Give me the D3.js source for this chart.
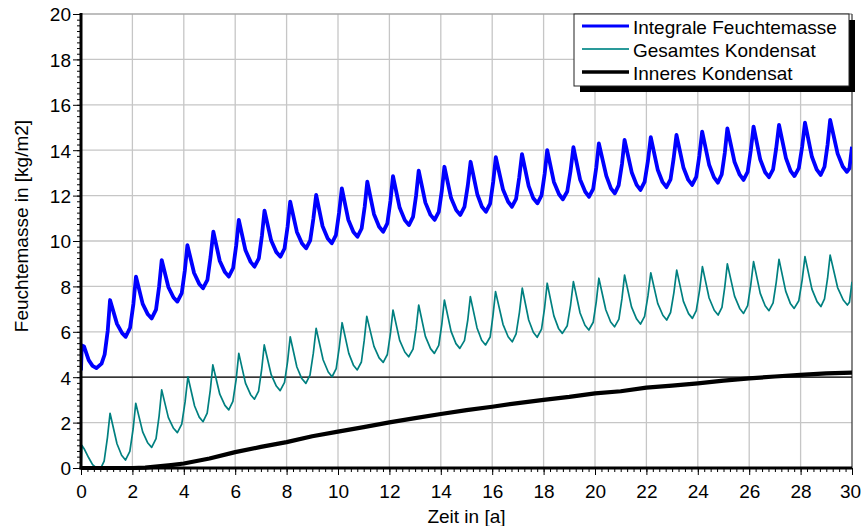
<!DOCTYPE html>
<html>
<head>
<meta charset="utf-8">
<script src="https://cdn.jsdelivr.net/npm/d3@7"></script>
<style>
  html, body { margin: 0; padding: 0; background: #fff; }
  svg { display: block; font-family: "Liberation Sans", Arial, sans-serif; }
</style>
</head>
<body>
<svg id="chart" width="861" height="526"></svg>
<script>
// ---------- data ----------
const seriesNames = ["Integrale Feuchtemasse", "Gesamtes Kondensat", "Inneres Kondensat"];
const xTicks = [0, 2, 4, 6, 8, 10, 12, 14, 16, 18, 20, 22, 24, 26, 28, 30];
const yTicks = [0, 2, 4, 6, 8, 10, 12, 14, 16, 18, 20];
const referenceLine = 4;

// [Zeit in a, Feuchtemasse in kg/m2]
const integraleFeuchtemasse = [
  [0,4.3],[0.03,5.4],[0.12,5.35],[0.3,4.75],[0.45,4.5],[0.6,4.4],[0.8,4.6],[0.92,5.0],[1.04,6.05],
  [1.13,7.4],[1.4,6.35],[1.6,5.94],[1.74,5.78],[1.91,6.18],[2.04,7.24],
  [2.14,8.43],[2.4,7.23],[2.6,6.77],[2.75,6.59],[2.92,6.98],[3.04,8.0],
  [3.14,9.16],[3.4,7.97],[3.6,7.51],[3.75,7.33],[3.92,7.7],[4.04,8.7],
  [4.14,9.82],[4.4,8.59],[4.6,8.11],[4.75,7.92],[4.92,8.29],[5.04,9.29],
  [5.15,10.41],[5.4,9.12],[5.6,8.63],[5.75,8.43],[5.92,8.81],[6.04,9.81],
  [6.14,10.93],[6.4,9.59],[6.6,9.08],[6.75,8.87],[6.92,9.24],[7.04,10.23],
  [7.14,11.34],[7.4,10.02],[7.6,9.51],[7.76,9.31],[7.92,9.67],[8.04,10.64],
  [8.14,11.73],[8.4,10.4],[8.6,9.89],[8.76,9.68],[8.92,10.03],[9.04,10.97],
  [9.15,12.03],[9.4,10.65],[9.6,10.11],[9.76,9.9],[9.92,10.26],[10.04,11.23],
  [10.15,12.32],[10.4,10.94],[10.6,10.4],[10.76,10.19],[10.92,10.55],[11.04,11.52],
  [11.14,12.61],[11.4,11.18],[11.6,10.63],[11.76,10.41],[11.92,10.78],[12.04,11.76],
  [12.14,12.86],[12.4,11.46],[12.6,10.92],[12.76,10.7],[12.92,11.06],[13.04,12.02],
  [13.14,13.1],[13.4,11.69],[13.6,11.15],[13.76,10.93],[13.92,11.28],[14.04,12.22],
  [14.14,13.27],[14.4,11.89],[14.6,11.36],[14.76,11.15],[14.92,11.5],[15.05,12.44],
  [15.16,13.49],[15.42,12.06],[15.6,11.51],[15.76,11.29],[15.92,11.65],[16.04,12.61],
  [16.14,13.69],[16.42,12.27],[16.62,11.73],[16.77,11.51],[16.93,11.86],[17.05,12.79],
  [17.16,13.83],[17.42,12.42],[17.6,11.88],[17.76,11.66],[17.92,12.01],[18.04,12.95],
  [18.14,14.0],[18.4,12.6],[18.6,12.06],[18.75,11.84],[18.92,12.18],[19.05,13.1],
  [19.16,14.13],[19.42,12.71],[19.62,12.17],[19.77,11.95],[19.93,12.3],[20.05,13.24],
  [20.15,14.3],[20.44,12.87],[20.62,12.32],[20.77,12.1],[20.92,12.45],[21.05,13.39],
  [21.15,14.45],[21.43,13.02],[21.62,12.47],[21.77,12.25],[21.93,12.6],[22.06,13.53],
  [22.17,14.57],[22.44,13.14],[22.63,12.59],[22.78,12.37],[22.94,12.72],[23.06,13.64],
  [23.17,14.67],[23.44,13.24],[23.63,12.69],[23.78,12.47],[23.94,12.82],[24.06,13.76],
  [24.17,14.82],[24.44,13.36],[24.63,12.8],[24.78,12.57],[24.93,12.93],[25.05,13.88],
  [25.15,14.96],[25.43,13.48],[25.63,12.92],[25.78,12.69],[25.94,13.04],[26.06,13.98],
  [26.17,15.04],[26.43,13.59],[26.62,13.03],[26.77,12.81],[26.93,13.16],[27.05,14.08],
  [27.16,15.11],[27.43,13.65],[27.61,13.09],[27.76,12.86],[27.93,13.21],[28.06,14.15],
  [28.17,15.21],[28.44,13.71],[28.63,13.14],[28.78,12.91],[28.93,13.27],[29.05,14.24],
  [29.15,15.33],[29.44,13.85],[29.64,13.28],[29.8,13.05],[29.9,13.2],[30,14.15]
];

const gesamtesKondensat = [
  [0,0],[0.03,1.0],[0.12,0.85],[0.3,0.45],[0.45,0.15],[0.6,0],[0.78,0.02],[0.9,0.3],[1.03,1.35],
  [1.13,2.41],[1.4,1.07],[1.58,0.56],[1.73,0.35],[1.9,0.73],[2.03,1.73],
  [2.13,2.85],[2.4,1.59],[2.6,1.1],[2.75,0.91],[2.92,1.29],[3.04,2.3],
  [3.14,3.44],[3.4,2.22],[3.6,1.75],[3.75,1.56],[3.92,1.93],[4.05,2.91],
  [4.16,4.02],[4.42,2.73],[4.6,2.24],[4.75,2.04],[4.91,2.42],[5.03,3.42],
  [5.13,4.54],[5.4,3.25],[5.6,2.76],[5.75,2.56],[5.91,2.93],[6.04,3.93],
  [6.14,5.05],[6.4,3.74],[6.6,3.23],[6.75,3.03],[6.91,3.39],[7.03,4.34],
  [7.13,5.42],[7.4,4.11],[7.6,3.61],[7.75,3.41],[7.92,3.77],[8.04,4.71],
  [8.14,5.78],[8.4,4.45],[8.59,3.94],[8.75,3.73],[8.91,4.09],[9.04,5.06],
  [9.15,6.15],[9.42,4.77],[9.62,4.23],[9.77,4.02],[9.93,4.38],[10.05,5.33],
  [10.16,6.4],[10.42,5.05],[10.6,4.53],[10.75,4.32],[10.91,4.67],[11.02,5.62],
  [11.12,6.68],[11.4,5.36],[11.6,4.85],[11.76,4.65],[11.92,5.0],[12.04,5.92],
  [12.14,6.96],[12.4,5.62],[12.6,5.11],[12.75,4.9],[12.92,5.24],[13.04,6.15],
  [13.14,7.18],[13.4,5.8],[13.6,5.26],[13.75,5.05],[13.92,5.4],[14.04,6.34],
  [14.14,7.4],[14.4,6.02],[14.59,5.48],[14.74,5.27],[14.92,5.61],[15.05,6.52],
  [15.15,7.55],[15.41,6.17],[15.59,5.63],[15.74,5.42],[15.92,5.77],[16.03,6.71],
  [16.13,7.77],[16.42,6.33],[16.62,5.78],[16.78,5.56],[16.93,5.91],[17.06,6.86],
  [17.17,7.92],[17.42,6.52],[17.6,5.98],[17.75,5.76],[17.92,6.12],[18.04,7.07],
  [18.14,8.14],[18.4,6.7],[18.58,6.15],[18.73,5.93],[18.92,6.27],[19.05,7.18],
  [19.16,8.21],[19.42,6.83],[19.61,6.29],[19.76,6.08],[19.93,6.42],[20.05,7.33],
  [20.15,8.36],[20.42,6.97],[20.61,6.43],[20.76,6.22],[20.93,6.56],[21.05,7.47],
  [21.15,8.5],[21.42,7.1],[21.62,6.56],[21.77,6.34],[21.93,6.68],[22.06,7.58],
  [22.17,8.6],[22.44,7.25],[22.64,6.73],[22.79,6.52],[22.94,6.85],[23.07,7.73],
  [23.18,8.72],[23.44,7.34],[23.64,6.8],[23.79,6.59],[23.94,6.93],[24.07,7.84],
  [24.18,8.87],[24.44,7.49],[24.64,6.95],[24.79,6.74],[24.94,7.08],[25.05,7.98],
  [25.15,8.99],[25.43,7.57],[25.63,7.03],[25.78,6.81],[25.94,7.15],[26.06,8.06],
  [26.17,9.09],[26.43,7.69],[26.62,7.15],[26.77,6.93],[26.93,7.27],[27.05,8.17],
  [27.16,9.19],[27.42,7.79],[27.6,7.25],[27.75,7.03],[27.93,7.37],[28.06,8.28],
  [28.17,9.31],[28.44,7.88],[28.64,7.33],[28.79,7.11],[28.93,7.45],[29.05,8.36],
  [29.15,9.38],[29.44,7.95],[29.66,7.4],[29.82,7.18],[29.9,7.3],[30,8.2]
];

const inneresKondensat = [
  [0,0],[1,0],[2,0],[2.5,0.02],[3,0.07],[3.5,0.13],[4,0.2],[5,0.42],[6,0.7],
  [7,0.93],[8,1.14],[9,1.4],[10,1.6],[11,1.8],[12,2.01],[13,2.2],[14,2.38],
  [15,2.55],[16,2.7],[17,2.86],[18,3.0],[19,3.13],[20,3.29],[21,3.38],
  [22,3.54],[23,3.63],[24,3.73],[25,3.85],[26,3.95],[27,4.03],[28,4.1],
  [29,4.17],[30,4.2]
];

// ---------- layout ----------
const L = 81, R = 852, T = 14, B = 468;
const FS = 19;

const svg = d3.select("#chart");
const x = d3.scaleLinear().domain([0, 30]).range([L, R]);
const y = d3.scaleLinear().domain([0, 20]).range([B, T]);

svg.append("defs").append("clipPath").attr("id", "plotclip")
  .append("rect").attr("x", L).attr("y", T - 2).attr("width", R - L).attr("height", B - T + 4);

// grid
const grid = svg.append("g");
grid.selectAll("line.gx").data(xTicks.filter(d => d > 0 && d < 30)).join("line")
  .attr("x1", d => x(d)).attr("x2", d => x(d)).attr("y1", T).attr("y2", B)
  .attr("stroke", "#c6c6c6").attr("stroke-width", 1.3);
grid.selectAll("line.gy").data(yTicks.filter(d => d > 0)).join("line")
  .attr("x1", L).attr("x2", R).attr("y1", d => y(d)).attr("y2", d => y(d))
  .attr("stroke", d => d === 20 ? "#a8a8a8" : "#c6c6c6").attr("stroke-width", 1.3);

// right border
svg.append("line").attr("x1", R).attr("x2", R).attr("y1", T).attr("y2", B)
  .attr("stroke", "#444").attr("stroke-width", 1.3);

// reference line at 4
svg.append("line").attr("x1", L).attr("x2", R)
  .attr("y1", y(referenceLine)).attr("y2", y(referenceLine))
  .attr("stroke", "#000").attr("stroke-width", 1.2);

// series
const line = d3.line().x(d => x(d[0])).y(d => y(d[1]));
const plot = svg.append("g").attr("clip-path", "url(#plotclip)");
const styles = [
  { data: gesamtesKondensat, color: "#008080", w: 1.7 },
  { data: integraleFeuchtemasse, color: "#0000ff", w: 3.8 },
  { data: inneresKondensat, color: "#000000", w: 4.2 }
];
styles.forEach(s => {
  plot.append("path").datum(s.data).attr("d", line)
    .attr("fill", "none").attr("stroke", s.color)
    .attr("stroke-width", s.w).attr("stroke-linejoin", "round");
});

// axes
const xMinor = d3.range(0, 30.001, 0.25);
const yMinor = d3.range(0, 20.001, 0.25);

const xAxisMinor = svg.append("g").attr("transform", `translate(0,${B})`)
  .call(d3.axisBottom(x).tickValues(xMinor).tickSize(4).tickFormat(""));
const xAxis = svg.append("g").attr("transform", `translate(0,${B})`)
  .call(d3.axisBottom(x).tickValues(xTicks).tickSize(7).tickFormat(d3.format("d")));
const yAxisMinor = svg.append("g").attr("transform", `translate(${L},0)`)
  .call(d3.axisLeft(y).tickValues(yMinor).tickSize(4).tickFormat(""));
const yAxis = svg.append("g").attr("transform", `translate(${L},0)`)
  .call(d3.axisLeft(y).tickValues(yTicks).tickSize(8).tickFormat(d3.format("d")));

[xAxisMinor, xAxis, yAxisMinor, yAxis].forEach(g => {
  g.select(".domain").remove();
  g.selectAll(".tick line").attr("stroke", "#000").attr("stroke-width", 1);
});
xAxis.selectAll(".tick text").attr("y", 30).attr("dy", 0)
  .attr("dx", d => d === 30 ? -2 : 0)
  .attr("font-size", FS).attr("fill", "#000").attr("font-family", "Liberation Sans, Arial, sans-serif");
yAxis.selectAll(".tick text").attr("x", -10).attr("dy", "0.36em")
  .attr("font-size", FS).attr("fill", "#000").attr("font-family", "Liberation Sans, Arial, sans-serif");

// thick axis lines
svg.append("line").attr("x1", L).attr("x2", L).attr("y1", T - 1).attr("y2", B + 1.5)
  .attr("stroke", "#000").attr("stroke-width", 3);
svg.append("line").attr("x1", L - 1.5).attr("x2", R).attr("y1", B).attr("y2", B)
  .attr("stroke", "#000").attr("stroke-width", 3);

// axis titles
svg.append("text").attr("x", (L + R) / 2).attr("y", 523)
  .attr("text-anchor", "middle").attr("font-size", FS).attr("fill", "#000")
  .text("Zeit in [a]");
svg.append("text").attr("transform", "translate(28,226) rotate(-90)")
  .attr("text-anchor", "middle").attr("font-size", FS).attr("fill", "#000")
  .text("Feuchtemasse in [kg/m2]");

// legend
const lg = svg.append("g");
const lx = 574, ly = 14, lw = 275, lh = 72;
lg.append("rect").attr("x", lx + 6).attr("y", ly + 6).attr("width", lw).attr("height", lh).attr("fill", "#000");
lg.append("rect").attr("x", lx).attr("y", ly).attr("width", lw).attr("height", lh)
  .attr("fill", "#fff").attr("stroke", "#222").attr("stroke-width", 1);
const legendStyles = [
  { color: "#0000ff", w: 3 },
  { color: "#2a9a9a", w: 2 },
  { color: "#000000", w: 3.5 }
];
seriesNames.forEach((name, i) => {
  const yy = 26 + i * 23;
  lg.append("line").attr("x1", 582).attr("x2", 629).attr("y1", yy).attr("y2", yy)
    .attr("stroke", legendStyles[i].color).attr("stroke-width", legendStyles[i].w);
  lg.append("text").attr("x", 633).attr("y", yy + 8).attr("font-size", FS).attr("fill", "#000")
    .text(name);
});
</script>
</body>
</html>
